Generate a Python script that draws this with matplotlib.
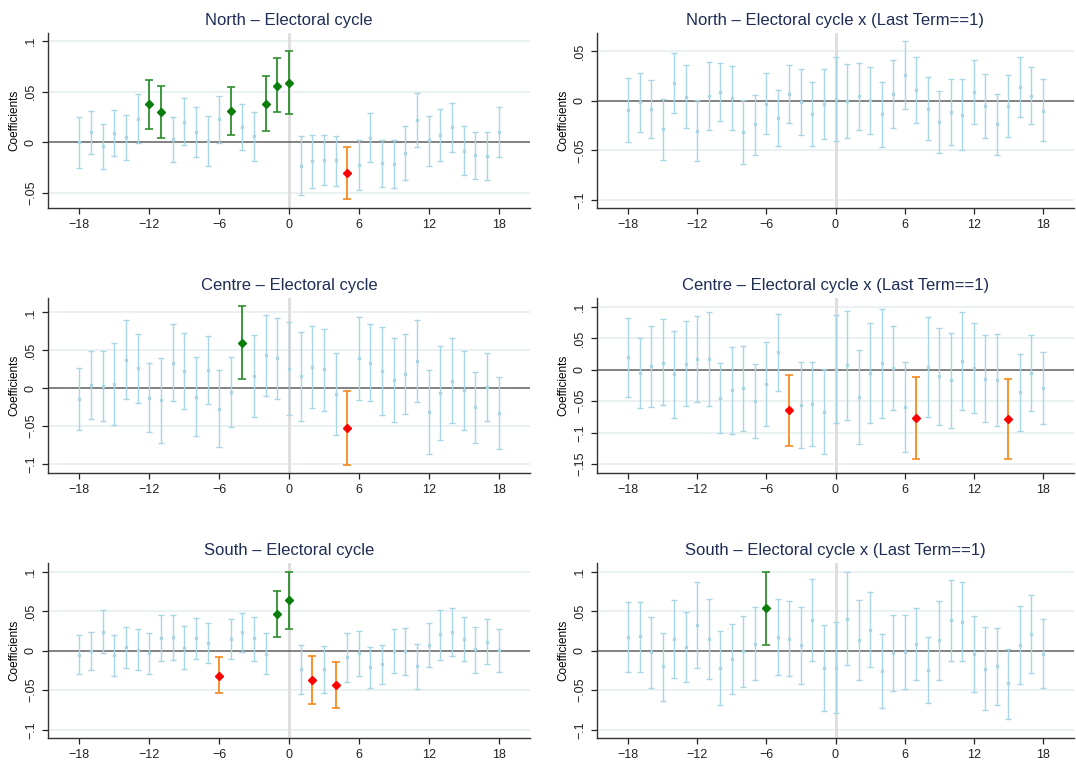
import numpy as np
import matplotlib.pyplot as plt
from matplotlib.ticker import FuncFormatter

plt.rcParams["font.family"] = ["Liberation Sans", "DejaVu Sans"]

periods = np.arange(-18, 19)

# north - electoral cycle
north_coef = [0.000, 0.010, -0.004, 0.0096, 0.005, 0.023, 0.0376, 0.030, 0.003, 0.020, 0.010, 0.001,
              0.023, 0.031, 0.015, 0.006, 0.038, 0.056, 0.059, -0.023, -0.019, -0.0175, -0.018, -0.030,
              -0.022, 0.0046, -0.0205, -0.0215, -0.0106, 0.022, 0.002, 0.0073, 0.015, -0.0083, -0.013,
              -0.0135, 0.010]
north_hi = [0.025, 0.031, 0.018, 0.032, 0.027, 0.0475, 0.062, 0.056, 0.025, 0.0436, 0.035, 0.026,
            0.046, 0.055, 0.038, 0.030, 0.065, 0.083, 0.090, 0.0063, 0.007, 0.0076, 0.0066, -0.0043,
            0.0026, 0.029, 0.0026, 0.0026, 0.016, 0.049, 0.0264, 0.033, 0.039, 0.0165, 0.010, 0.0106,
            0.0346]
north_lo = [-0.025, -0.012, -0.026, -0.014, -0.018, -0.001, 0.0135, 0.0046, -0.0195, -0.0026, -0.015,
            -0.023, -0.0005, 0.007, -0.008, -0.019, 0.0116, 0.030, 0.028, -0.0525, -0.0455, -0.0426,
            -0.043, -0.0565, -0.047, -0.020, -0.044, -0.0455, -0.037, -0.005, -0.023, -0.0185, -0.0096,
            -0.0327, -0.0366, -0.0376, -0.0145]

# north - electoral cycle x last term
north_lt_coef = [-0.0094, -0.0017, -0.0084, -0.029, 0.0178, 0.004, -0.0306, 0.0044, 0.0087, 0.003,
                 -0.0316, -0.024, -0.003, -0.0175, 0.0067, -0.0013, -0.0134, -0.0037, 0.0013, -0.0003,
                 0.0044, 0.0003, -0.0138, 0.0064, 0.0255, 0.0104, -0.008, -0.0218, -0.0118, -0.0144,
                 0.0087, -0.0054, -0.0239, -0.0057, 0.0138, 0.0047, -0.010]
north_lt_hi = [0.0225, 0.028, 0.021, 0.0013, 0.048, 0.036, 0.0005, 0.0386, 0.0376, 0.035, 0.0007, 0.006,
               0.0276, 0.011, 0.036, 0.032, 0.019, 0.0316, 0.044, 0.0366, 0.0376, 0.034, 0.019, 0.0407,
               0.060, 0.0437, 0.0235, 0.0097, 0.0215, 0.0215, 0.041, 0.027, 0.0064, 0.0255, 0.0437,
               0.0336, 0.0215]
north_lt_lo = [-0.0413, -0.0316, -0.038, -0.0595, -0.0128, -0.028, -0.061, -0.030, -0.021, -0.030,
               -0.064, -0.055, -0.0336, -0.046, -0.023, -0.0346, -0.046, -0.039, -0.041, -0.0376,
               -0.0296, -0.0336, -0.047, -0.028, -0.0087, -0.023, -0.040, -0.053, -0.045, -0.050,
               -0.0235, -0.038, -0.055, -0.037, -0.0168, -0.0239, -0.041]

# centre - electoral cycle
centre_coef = [-0.0146, 0.0044, 0.0035, 0.0053, 0.0375, 0.026, -0.0124, -0.016, 0.0336, 0.023, -0.0115,
               0.0234, -0.0274, -0.0049, 0.0596, 0.0163, 0.0433, 0.0393, 0.0256, 0.0155, 0.028, 0.0247,
               -0.0075, -0.0525, 0.0397, 0.0336, 0.023, 0.0106, 0.0185, 0.0358, -0.031, -0.0066, 0.0097,
               -0.003, -0.025, 0.0018, -0.0327]
centre_hi = [0.0265, 0.0486, 0.0486, 0.059, 0.0896, 0.071, 0.0336, 0.040, 0.0843, 0.073, 0.0406, 0.0684,
             0.0234, 0.0415, 0.108, 0.0706, 0.096, 0.092, 0.087, 0.074, 0.0826, 0.0786, 0.0464, -0.0035,
             0.0945, 0.0843, 0.081, 0.066, 0.071, 0.0896, 0.0243, 0.055, 0.066, 0.049, 0.021, 0.0464,
             0.0146]
centre_lo = [-0.0556, -0.0406, -0.0428, -0.049, -0.0146, -0.020, -0.058, -0.072, -0.0172, -0.0274,
             -0.0636, -0.021, -0.078, -0.051, 0.0115, -0.0384, -0.010, -0.0146, -0.035, -0.0437, -0.026,
             -0.0296, -0.062, -0.101, -0.015, -0.0172, -0.035, -0.0446, -0.034, -0.018, -0.0874, -0.069,
             -0.046, -0.055, -0.072, -0.043, -0.080]

# centre - electoral cycle x last term
centre_lt_coef = [0.0196, -0.0058, 0.0058, 0.011, -0.0074, 0.0095, 0.0175, 0.0175, -0.0444, -0.032,
                  -0.0296, -0.0497, -0.022, 0.028, -0.0645, -0.056, -0.054, -0.067, 0.0005, 0.0069,
                  -0.0434, -0.0053, 0.010, 0.0026, -0.059, -0.076, 0.0042, -0.010, -0.017, 0.0138, 0.0026,
                  -0.0143, -0.016, -0.0788, -0.036, -0.0048, -0.0286]
centre_lt_hi = [0.083, 0.0497, 0.070, 0.080, 0.061, 0.0767, 0.0857, 0.0915, 0.011, 0.0365, 0.038, 0.0085,
                0.0444, 0.089, -0.0085, 0.0127, 0.0127, 0.0008, 0.0868, 0.094, 0.0317, 0.075, 0.097, 0.069,
                0.012, -0.0116, 0.084, 0.067, 0.0587, 0.0915, 0.0735, 0.055, 0.057, -0.0153, 0.0254,
                0.0555, 0.029]
centre_lt_lo = [-0.044, -0.061, -0.0587, -0.0566, -0.076, -0.0577, -0.052, -0.057, -0.1005, -0.1016,
                -0.097, -0.109, -0.090, -0.0333, -0.121, -0.125, -0.1217, -0.134, -0.085, -0.080, -0.118,
                -0.085, -0.077, -0.0645, -0.131, -0.141, -0.0757, -0.088, -0.092, -0.0645, -0.068,
                -0.0836, -0.089, -0.142, -0.098, -0.0656, -0.0868]

# south - electoral cycle
south_coef = [-0.005, 0.0, 0.024, -0.0055, 0.0042, 0.0013, -0.0025, 0.0165, 0.0173, 0.0038, 0.016,
              0.0097, -0.0316, 0.0148, 0.0232, 0.0156, -0.0038, 0.046, 0.0637, -0.0236, -0.037, -0.0236,
              -0.043, -0.0084, -0.0034, -0.0207, -0.0173, 0.0, -0.0008, -0.0194, 0.0072, 0.0207, 0.0236,
              0.0152, 0.0017, 0.0114, 0.0004]
south_hi = [0.0198, 0.024, 0.0515, 0.020, 0.030, 0.027, 0.023, 0.0456, 0.0456, 0.031, 0.0418, 0.0354,
            -0.0084, 0.0397, 0.048, 0.043, 0.0228, 0.075, 0.100, 0.0076, -0.0068, 0.0063, -0.0143, 0.0224,
            0.025, 0.005, 0.0076, 0.028, 0.029, 0.0084, 0.0354, 0.052, 0.054, 0.043, 0.030, 0.0405, 0.028]
south_lo = [-0.030, -0.025, -0.003, -0.032, -0.022, -0.025, -0.0295, -0.0135, -0.0114, -0.0236, -0.010,
            -0.016, -0.054, -0.0105, -0.0017, -0.0127, -0.030, 0.0169, 0.0274, -0.055, -0.067, -0.054,
            -0.073, -0.039, -0.0325, -0.047, -0.0426, -0.028, -0.031, -0.0485, -0.021, -0.0114, -0.0072,
            -0.0135, -0.028, -0.0173, -0.0274]

# south - electoral cycle x last term
south_lt_coef = [0.0173, 0.018, -0.002, -0.020, 0.0152, 0.005, 0.032, 0.0152, -0.022, -0.011, -0.0008,
                 0.0089, 0.0536, 0.0169, 0.0148, 0.0068, 0.039, -0.0224, -0.022, 0.0405, 0.014, 0.0266,
                 -0.0253, -0.0034, -0.002, 0.0089, -0.024, 0.013, 0.0384, 0.0363, -0.0038, -0.0228,
                 -0.020, -0.0414, 0.0076, 0.021, -0.0038]
south_lt_hi = [0.0616, 0.062, 0.043, 0.0228, 0.0637, 0.0494, 0.087, 0.0654, 0.025, 0.0333, 0.0443, 0.055,
               0.100, 0.065, 0.0624, 0.0557, 0.091, 0.032, 0.036, 0.099, 0.0646, 0.0738, 0.0215, 0.0447,
               0.0447, 0.0544, 0.0177, 0.063, 0.090, 0.0865, 0.044, 0.030, 0.0287, 0.0025, 0.0565,
               0.0705, 0.040]
south_lt_lo = [-0.0274, -0.0266, -0.0477, -0.0637, -0.034, -0.040, -0.0224, -0.036, -0.069, -0.055,
               -0.0464, -0.0376, 0.0076, -0.031, -0.0325, -0.042, -0.013, -0.0764, -0.079, -0.0177,
               -0.037, -0.021, -0.073, -0.0515, -0.0485, -0.0367, -0.066, -0.0367, -0.0135, -0.0135,
               -0.052, -0.0755, -0.0688, -0.086, -0.0418, -0.028, -0.0477]

titles = ["North – Electoral cycle", "North – Electoral cycle x (Last Term==1)",
          "Centre – Electoral cycle", "Centre – Electoral cycle x (Last Term==1)",
          "South – Electoral cycle", "South – Electoral cycle x (Last Term==1)"]
series = [(north_coef, north_lo, north_hi), (north_lt_coef, north_lt_lo, north_lt_hi),
          (centre_coef, centre_lo, centre_hi), (centre_lt_coef, centre_lt_lo, centre_lt_hi),
          (south_coef, south_lo, south_hi), (south_lt_coef, south_lt_lo, south_lt_hi)]
y_ticks = [[-0.05, 0, 0.05, 0.1], [-0.1, -0.05, 0, 0.05],
           [-0.1, -0.05, 0, 0.05, 0.1], [-0.15, -0.1, -0.05, 0, 0.05, 0.1],
           [-0.1, -0.05, 0, 0.05, 0.1], [-0.1, -0.05, 0, 0.05, 0.1]]
y_lims = [(-0.065, 0.108), (-0.108, 0.068), (-0.112, 0.119), (-0.164, 0.114),
          (-0.1105, 0.111), (-0.1105, 0.111)]
x_ticks = [-18, -12, -6, 0, 6, 12, 18]

ltblue = "#a8d6e4"
green = "#0a7d0a"
red = "#ff0000"
orange = "#f7891e"
navy = "#1f2d55"


def stata_fmt(v, pos):
    if abs(v) < 1e-9:
        return "0"
    s = ("%g" % abs(v)).lstrip("0")
    return ("\u2212" if v < 0 else "") + s


fig = plt.figure(figsize=(10.76, 7.62), dpi=100, facecolor="w")
W, H = 1076.0, 762.0
col_x = [(48, 482), (597, 477)]
row_y = [33, 298, 563]
ax_h = 175

for i in range(6):
    r, c = divmod(i, 2)
    left, width = col_x[c]
    ax = fig.add_axes([left / W, 1 - (row_y[r] + ax_h) / H, width / W, ax_h / H])
    coef, lo, hi = [np.array(a) for a in series[i]]

    # reference lines
    for yt in y_ticks[i]:
        if yt != 0:
            ax.axhline(yt, color="#e6eff1", lw=1.2, zorder=0)
    ax.axvline(0, color="#dddddd", lw=2, zorder=0)
    ax.axhline(0, color="#606060", lw=1.1, zorder=1)

    pos = lo > 0
    neg = hi < 0
    ns = ~(pos | neg)

    ax.errorbar(periods[ns], coef[ns], yerr=[coef[ns] - lo[ns], hi[ns] - coef[ns]], fmt="s",
                color=ltblue, ms=1.7, elinewidth=1.0, capsize=2.3, capthick=1.0, zorder=2)
    if pos.any():
        ax.errorbar(periods[pos], coef[pos], yerr=[coef[pos] - lo[pos], hi[pos] - coef[pos]], fmt="none",
                    ecolor="#2e8f2e", elinewidth=1.3, capsize=2.6, capthick=1.2, zorder=3)
        ax.plot(periods[pos], coef[pos], "D", color=green, ms=4.3, zorder=4)
    if neg.any():
        ax.errorbar(periods[neg], coef[neg], yerr=[coef[neg] - lo[neg], hi[neg] - coef[neg]], fmt="none",
                    ecolor=orange, elinewidth=1.3, capsize=2.6, capthick=1.2, zorder=3)
        ax.plot(periods[neg], coef[neg], "D", color=red, ms=4.3, zorder=4)

    ax.set_xlim(-20.7, 20.7)
    ax.set_ylim(*y_lims[i])
    ax.set_xticks(x_ticks)
    ax.set_yticks(y_ticks[i])
    ax.yaxis.set_major_formatter(FuncFormatter(stata_fmt))
    for lab in ax.get_yticklabels():
        lab.set_rotation(90)
        lab.set_va("center")
    ax.tick_params(axis="both", labelsize=9, colors="#222222", length=4.5, width=0.9)
    ax.set_ylabel("Coefficients", fontsize=8.5, labelpad=3)
    ax.set_title(titles[i], fontsize=12, color=navy, pad=6)
    for spine in ("top", "right"):
        ax.spines[spine].set_visible(False)
    for spine in ("left", "bottom"):
        ax.spines[spine].set_color("#333333")
        ax.spines[spine].set_linewidth(1.0)

fig.savefig("out.png", dpi=100, facecolor="w")
